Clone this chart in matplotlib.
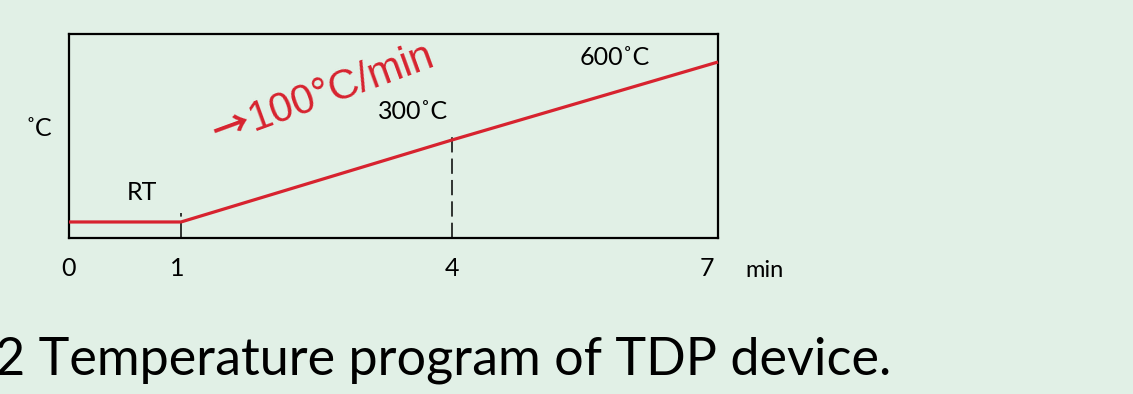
import numpy as np
import matplotlib
matplotlib.use("Agg")
import matplotlib.pyplot as plt
import matplotlib.transforms as mtransforms

# temperature program (schematic)
time_min = [0, 1, 4, 7]
temp_c = [25, 25, 300, 600]
tick_labels = ["0", "1", "4", "7"]
marks_x = [1, 4]          # dashed guide lines
marks_y = [25, 300]

BG = "#e1f0e6"
RED = "#d7232f"

# the drawing is not to scale: piecewise axis mapping
x_knots = [0, 1, 4, 7]
x_pos = [0, 1.208, 4.131, 7]
y_knots = [-100, 25, 300, 600, 800]
y_pos = [-37.3, 0, 82, 160, 212]

def fx(v):
    return np.interp(v, x_knots, x_pos)

def ifx(v):
    return np.interp(v, x_pos, x_knots)

def fy(v):
    return np.interp(v, y_knots, y_pos)

def ify(v):
    return np.interp(v, y_pos, y_knots)

plt.rcParams["font.family"] = ["Lato", "DejaVu Sans"]

fig = plt.figure(figsize=(11.33, 3.94), dpi=100, facecolor=BG)
ax = fig.add_axes([69 / 1133, 1 - 238 / 394, 649 / 1133, 204 / 394])
ax.set_facecolor(BG)
ax.set_xscale("function", functions=(fx, ifx))
ax.set_yscale("function", functions=(fy, ify))
ax.set_xlim(0, 7)
ax.set_ylim(-28.7, 707.7)

ax.plot(time_min, temp_c, color=RED, lw=2.3, solid_capstyle="butt", zorder=3,
        clip_on=False)

# dashed guides from the axis up past the line
for xm, ym in zip(marks_x, marks_y):
    ax.plot([xm, xm], [-28.7, ym + 30], color="black", lw=1.1,
            dashes=(10, 4), zorder=2)

for s in ax.spines.values():
    s.set_linewidth(1.6)
    s.set_color("black")

ax.set_xticks(time_min)
ax.set_xticklabels(tick_labels)
ax.set_yticks([])
ax.tick_params(axis="x", length=0, pad=14, labelsize=18)
# last label sits a bit left of the frame edge
shift = mtransforms.ScaledTranslation(-11 / 100, 0, fig.dpi_scale_trans)
ax.get_xticklabels()[-1].set_transform(ax.get_xticklabels()[-1].get_transform() + shift)
shift1 = mtransforms.ScaledTranslation(-4 / 100, 0, fig.dpi_scale_trans)
ax.get_xticklabels()[1].set_transform(ax.get_xticklabels()[1].get_transform() + shift1)

ax.text(1.072, -0.157, "min", transform=ax.transAxes, ha="center", va="center",
        fontsize=17)
ax.text(-0.046, 0.539, "˚C", transform=ax.transAxes, ha="center", va="center",
        fontsize=18)
ax.text(0.1125, 0.221, "RT", transform=ax.transAxes, ha="center", va="center",
        fontsize=18)
ax.text(0.530, 0.618, "300˚C", transform=ax.transAxes, ha="center", va="center",
        fontsize=18)
ax.text(0.841, 0.887, "600˚C", transform=ax.transAxes, ha="center", va="center",
        fontsize=18)

# rate label: arrow and text share one baseline anchor
ax.text(0.285, 0.5245, "100°C/min", transform=ax.transAxes, ha="left",
        va="baseline", rotation=20, rotation_mode="anchor", color=RED,
        fontsize=30, family=["Liberation Sans", "DejaVu Sans"])
ax.text(0.283, 0.522, "→", transform=ax.transAxes, ha="right",
        va="baseline", rotation=20, rotation_mode="anchor", color=RED,
        fontsize=27, fontweight="bold", family=["Noto Sans CJK JP", "DejaVu Sans"])

fig.text(-5 / 1133, 1 - 374 / 394, "2 Temperature program of TDP device.",
         ha="left", va="baseline", fontsize=37.5)

fig.savefig("out.png", dpi=100, facecolor=BG)
